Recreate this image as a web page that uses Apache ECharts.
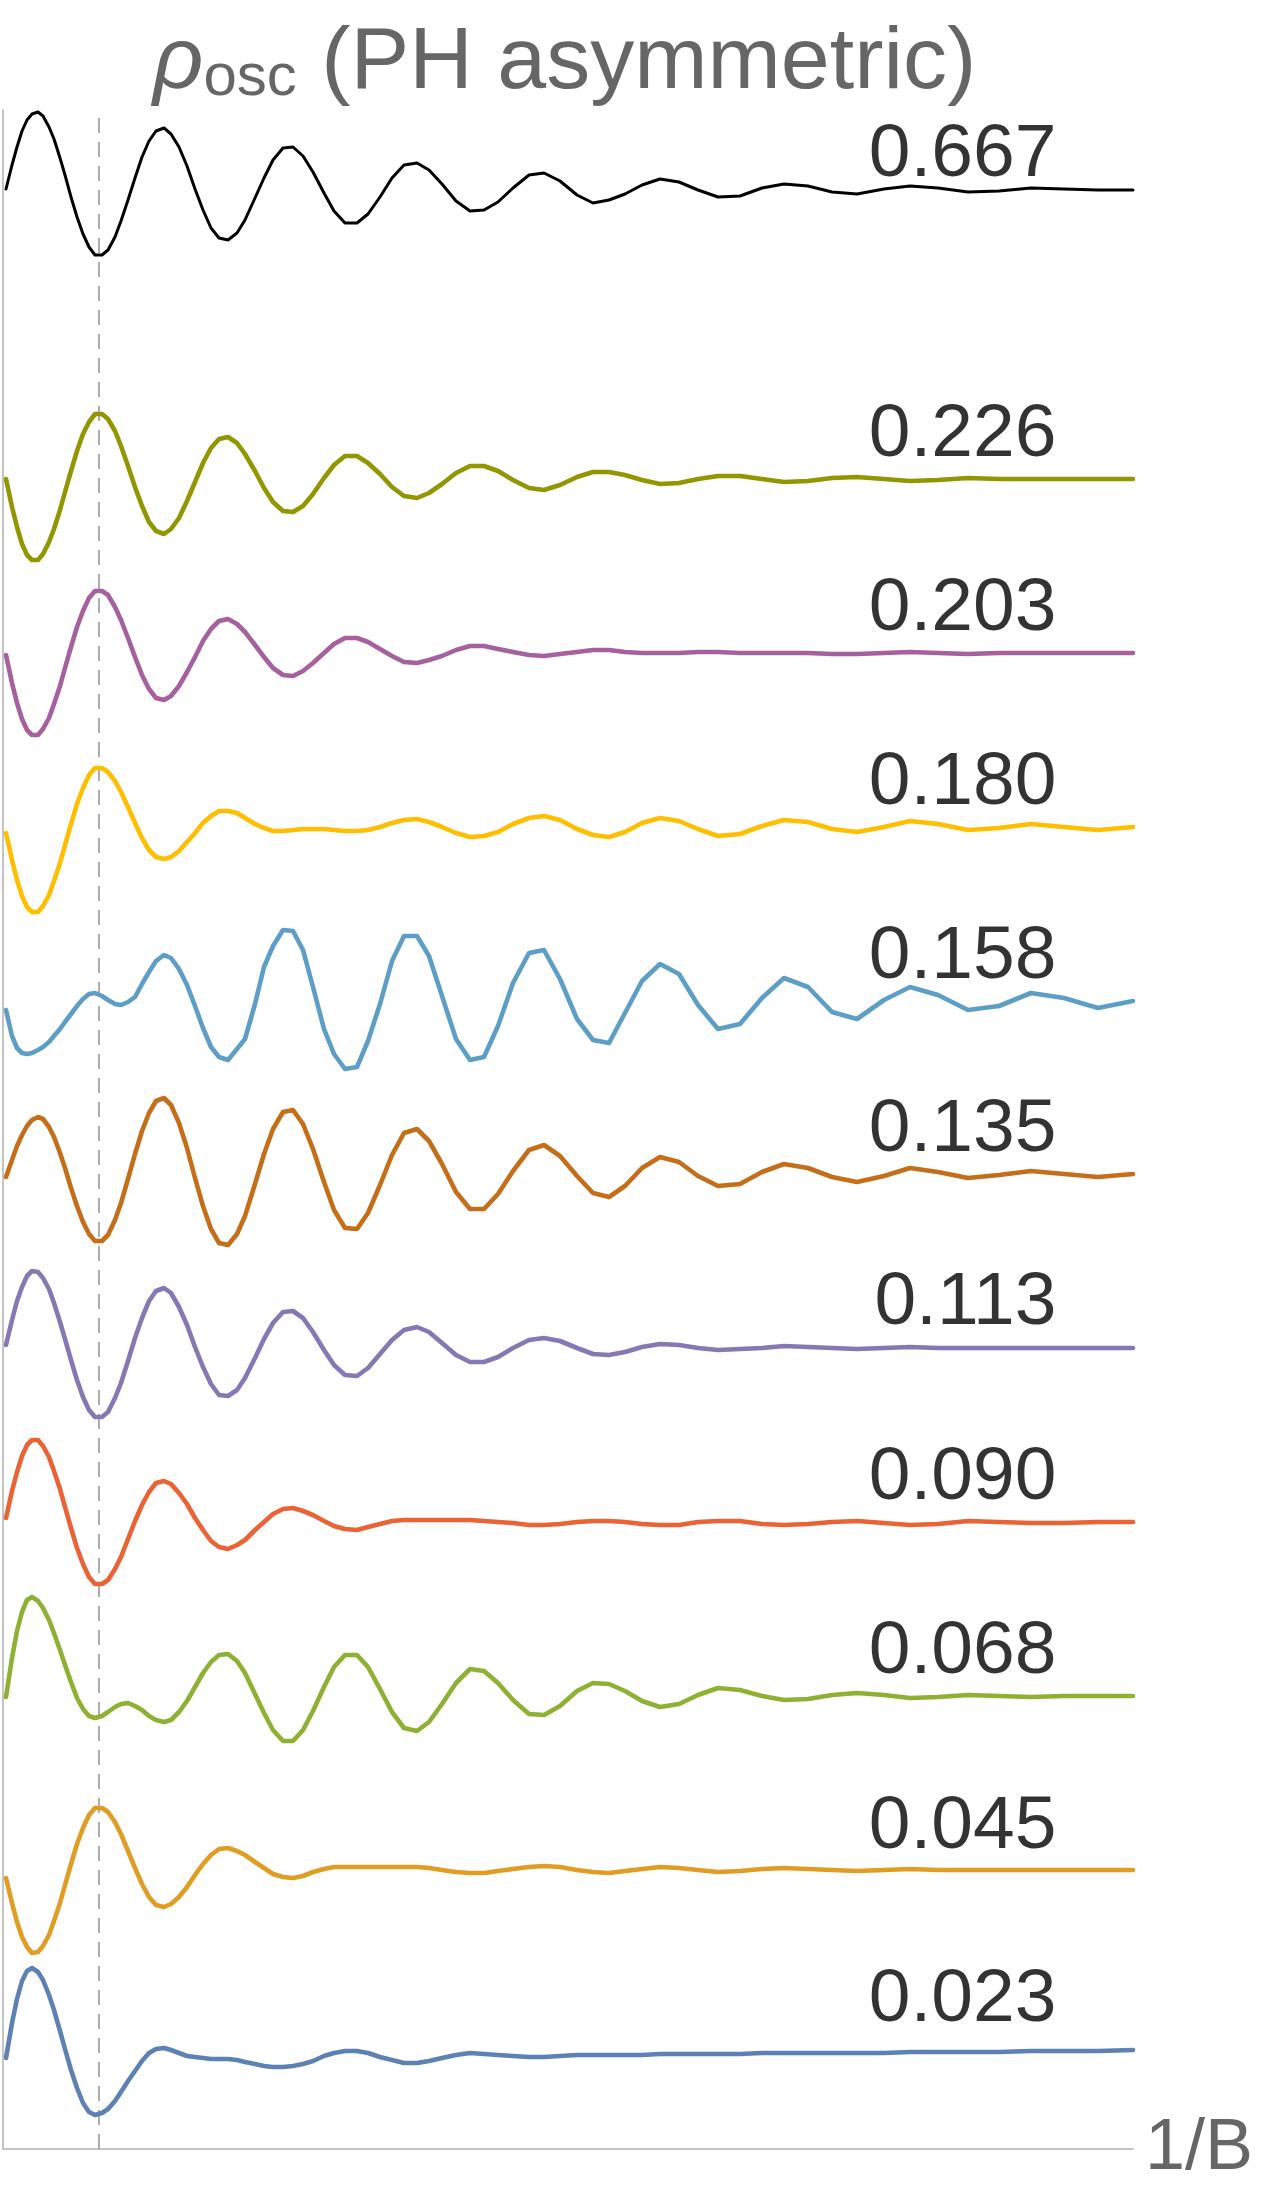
<!DOCTYPE html>
<html>
<head>
<meta charset="UTF-8">
<title>rho osc (PH asymmetric)</title>
<script src="https://cdn.jsdelivr.net/npm/echarts@6.0.0/dist/echarts.min.js"></script>
<style>
  html, body { margin: 0; padding: 0; background: #fff; }
  #chart { width: 1269px; height: 2198px; }
</style>
</head>
<body>
<div id="chart"></div>
<script>
// sample positions along 1/B (same for every curve)
var xs = [6, 12, 17, 22, 27, 32,
  38, 43, 49, 54, 60, 65, 71, 77, 83, 89, 95,
  102, 108, 115, 121, 128, 135, 142, 149, 156,
  164, 171, 179, 187, 195, 203, 211, 219,
  228, 237, 245, 255, 264, 273, 283,
  293, 303, 313, 324, 334, 345,
  357, 368, 380, 392, 404,
  417, 429, 442, 456, 470,
  484, 498, 513, 529,
  544, 560, 577, 593, 609, 625, 642, 660, 679, 698, 718, 740, 762, 784, 808, 832, 857, 884, 910, 938, 968, 999, 1031, 1064, 1098, 1133];

// curve labels, top to bottom
var labels = ['0.667', '0.226', '0.203', '0.180', '0.158', '0.135', '0.113', '0.090', '0.068', '0.045', '0.023'];

// vertical offset of each curve (stacked)
var offsets = [1959, 1670, 1496, 1322, 1148, 974, 801, 627, 453, 279, 99];

// rho_osc of each curve, relative to its offset
var rho0667 = [1, 25, 43, 59, 70, 76,
  78, 74, 63, 51, 32, 15, -7, -27, -44, -57, -65,
  -65, -60, -47, -31, -10, 12, 33, 49, 59,
  62, 56, 43, 24, 1, -20, -38, -48,
  -50, -43, -30, -8, 12, 30, 42,
  43, 34, 18, -3, -21, -33,
  -33, -24, -7, 12, 25,
  27, 20, 6, -11, -21,
  -20, -12, 2, 15,
  17, 9, -5, -13, -10, -4, 5, 11, 8, 0, -7, -6, 2, 6, 4, -2, -4, 1, 4, 2, -2, -1, 2, 1, 0, 0];

var rho0226 = [0, -28, -48, -65, -76, -81,
  -81, -75, -63, -50, -31, -13, 8, 28, 45, 57, 65,
  65, 60, 48, 33, 13, -8, -27, -43, -52,
  -55, -50, -39, -22, -3, 16, 31, 40,
  42, 36, 25, 8, -9, -23, -32,
  -33, -27, -15, 1, 14, 23,
  23, 16, 5, -8, -17,
  -19, -14, -5, 6, 13,
  13, 8, -1, -9,
  -11, -6, 2, 7, 7, 4, -1, -5, -4, 0, 3, 3, 0, -3, -2, 1, 2, 0, -2, -1, 1, 0, 0, 0, 0, 0];

var rho0203 = [-2, -30, -50, -66, -77, -82,
  -82, -76, -65, -51, -33, -15, 6, 26, 42, 55, 62,
  62, 58, 46, 33, 15, -4, -22, -36, -45,
  -47, -43, -33, -19, -4, 12, 24, 32,
  34, 29, 21, 8, -4, -15, -22,
  -23, -18, -10, 0, 9, 15,
  15, 11, 4, -3, -9,
  -10, -7, -3, 3, 7,
  7, 4, 1, -2,
  -3, -1, 1, 3, 3, 1, 0, 0, 0, 1, 1, 0, 0, 0, 0, -1, -1, 0, 1, 0, -1, 0, 0, 0, 0, 0];

var rho0180 = [-6, -33, -53, -69, -80, -85,
  -85, -79, -68, -54, -36, -18, 3, 23, 39, 52, 59,
  59, 55, 46, 35, 20, 4, -11, -23, -30,
  -32, -30, -24, -15, -6, 4, 11, 16,
  16, 14, 9, 3, -1, -4, -4,
  -3, -2, -2, -2, -3, -4,
  -4, -3, 0, 4, 7,
  8, 5, 0, -6, -10,
  -9, -5, 3, 9,
  11, 7, -2, -8, -10, -5, 4, 9, 6, -2, -9, -7, 1, 7, 5, -2, -5, 0, 6, 3, -3, -1, 3, 0, -3, 0];

var rho0158 = [-9, -35, -47, -52, -53, -52,
  -49, -46, -41, -35, -28, -21, -13, -5, 2, 7, 8,
  5, 1, -3, -4, -1, 4, 17, 29, 40,
  46, 43, 32, 16, -5, -27, -46, -56,
  -59, -48, -38, -3, 34, 55, 71,
  70, 51, 14, -28, -53, -68,
  -66, -40, -3, 40, 65,
  65, 45, 5, -38, -59,
  -56, -25, 18, 48,
  51, 22, -18, -39, -42, -12, 20, 37, 27, -4, -28, -23, 3, 23, 14, -11, -18, 1, 14, 6, -9, -5, 8, 3, -7, 0];

var rho0135 = [-2, 15, 29, 40, 49, 55,
  58, 56, 48, 38, 22, 7, -13, -31, -47, -59, -66,
  -66, -60, -45, -28, -4, 21, 44, 62, 74,
  77, 70, 52, 27, -3, -31, -54, -68,
  -70, -59, -41, -9, 21, 46, 63,
  65, 51, 26, -7, -35, -53,
  -54, -38, -10, 20, 42,
  46, 34, 11, -17, -34,
  -34, -19, 4, 25,
  30, 19, -1, -18, -22, -11, 7, 18, 13, -1, -11, -9, 3, 11, 7, -2, -7, -1, 7, 3, -3, 0, 4, 1, -2, 1];

var rho0113 = [3, 28, 47, 61, 72, 77,
  76, 70, 59, 45, 26, 9, -12, -32, -49, -62, -69,
  -69, -64, -50, -35, -13, 10, 30, 47, 57,
  60, 55, 41, 23, 1, -19, -36, -47,
  -48, -42, -30, -10, 9, 25, 36,
  37, 30, 16, -2, -17, -27,
  -28, -20, -6, 8, 18,
  21, 16, 5, -7, -14,
  -14, -9, 0, 8,
  10, 7, 0, -6, -7, -4, 1, 4, 3, 0, -2, -1, 0, 2, 1, 0, -1, 0, 1, 0, 0, 0, 0, 0, 0, 0];

var rho0090 = [4, 31, 50, 66, 77, 82,
  82, 76, 65, 51, 33, 15, -6, -26, -42, -55, -62,
  -62, -58, -47, -35, -17, 1, 17, 30, 39,
  41, 38, 29, 18, 4, -8, -19, -25,
  -27, -23, -18, -8, 0, 8, 13,
  14, 11, 7, 1, -4, -7,
  -8, -5, -2, 1, 2,
  2, 2, 2, 2, 2,
  1, 0, -1, -3,
  -3, -2, 0, 1, 1, 0, -2, -3, -3, 0, 1, 1, -2, -3, -2, 0, 1, -1, -3, -2, 1, 0, -1, -1, 0, 0];

var rho0068 = [-1, 38, 65, 84, 96, 99,
  95, 88, 76, 63, 46, 31, 14, -2, -13, -20, -22,
  -20, -16, -11, -8, -7, -10, -14, -20, -24,
  -26, -24, -16, -5, 9, 23, 34, 41,
  42, 35, 23, 2, -17, -34, -45,
  -45, -34, -15, 9, 29, 41,
  41, 29, 7, -16, -32,
  -35, -26, -8, 13, 27,
  25, 13, -4, -18,
  -19, -10, 5, 13, 12, 5, -5, -11, -8, 1, 8, 6, 0, -4, -3, 1, 3, 1, -2, -1, 1, 0, -1, 0, 0, 0];

var rho0045 = [-8, -33, -52, -67, -77, -83,
  -82, -76, -65, -51, -33, -15, 6, 26, 42, 55, 62,
  62, 58, 48, 36, 19, 2, -14, -27, -35,
  -37, -34, -27, -17, -5, 6, 15, 21,
  22, 19, 15, 8, 2, -4, -7,
  -8, -6, -2, 1, 3, 3,
  3, 3, 3, 3, 3,
  3, 2, 0, -2, -3,
  -3, -1, 1, 3,
  4, 3, 0, -2, -3, -1, 1, 3, 2, 0, -2, -1, 1, 2, 1, 0, -1, 0, 1, 0, 0, 0, 0, 0, 0, 0];

var rho0023 = [-8, 27, 51, 69, 79, 82,
  78, 70, 55, 40, 19, 1, -20, -38, -53, -62, -65,
  -63, -59, -51, -42, -31, -21, -11, -3, 1,
  2, 0, -3, -6, -7, -8, -9, -9,
  -9, -10, -12, -14, -16, -17, -17,
  -16, -14, -11, -6, -3, -1,
  -1, -3, -7, -10, -13,
  -13, -11, -8, -5, -3,
  -4, -5, -6, -7,
  -7, -6, -5, -5, -5, -5, -5, -4, -4, -4, -4, -4, -3, -3, -3, -3, -3, -3, -2, -2, -2, -2, -1, -1, -1, 0];

var curves = [rho0667, rho0226, rho0203, rho0180, rho0158, rho0135, rho0113, rho0090, rho0068, rho0045, rho0023];

// Mathematica-like palette, black for the top curve
var colors = ['#000000', '#929600', '#A5609D', '#FFBF00', '#5D9EC7', '#C56E1A',
              '#8778B3', '#EB6235', '#8FB032', '#E19C24', '#5E81B5'];

var FONT = "'Liberation Sans', Arial, Helvetica, sans-serif";
var LABEL_X = 1057;
var labelLift = [35, 44, 44, 44, 44, 45, 45, 44, 44, 43, 50];

var chart = echarts.init(document.getElementById('chart'), null, { renderer: 'canvas' });

var series = curves.map(function (vals, i) {
  return {
    name: labels[i],
    type: 'line',
    data: xs.map(function (x, j) { return [x, offsets[i] + vals[j]]; }),
    showSymbol: false,
    symbol: 'none',
    smooth: false,
    silent: true,
    lineStyle: { color: colors[i], width: i === 0 ? 3 : 4.6, join: 'round', cap: 'round' },
    z: 3
  };
});

// dashed reference line
series[0].markLine = {
  silent: true,
  symbol: 'none',
  label: { show: false },
  lineStyle: { color: '#999', width: 1.6, type: [15, 9] },
  data: [{ xAxis: 99 }],
  z: 1
};

// curve labels
series.push({
  type: 'scatter',
  silent: true,
  symbol: 'circle',
  symbolSize: 1,
  itemStyle: { color: 'rgba(0,0,0,0)' },
  data: labels.map(function (t, i) {
    return { name: t, value: [LABEL_X, offsets[i] + labelLift[i]] };
  }),
  label: {
    show: true,
    formatter: '{b}',
    position: 'left',
    distance: 0,
    fontFamily: FONT,
    fontSize: 75,
    color: '#000'
  },
  z: 5
});

var option = {
  animation: false,
  backgroundColor: '#fff',
  title: {
    text: '{rho|ρ}{sub|osc} (PH asymmetric)',
    left: 153,
    top: 20,
    padding: 0,
    textStyle: {
      fontFamily: FONT,
      fontSize: 88,
      fontWeight: 'normal',
      color: '#666',
      rich: {
        rho: { fontFamily: FONT, fontSize: 88, fontStyle: 'italic', color: '#666' },
        sub: { fontFamily: FONT, fontSize: 60, color: '#666', verticalAlign: 'bottom', lineHeight: 52 }
      }
    }
  },
  grid: {
    left: 3,
    right: 136,
    top: 110,
    bottom: 49,
    containLabel: false,
    outerBoundsMode: 'none'
  },
  xAxis: {
    type: 'value',
    min: 3,
    max: 1133,
    name: '1/B',
    nameLocation: 'end',
    nameGap: 12,
    nameTextStyle: { fontFamily: FONT, fontSize: 72, color: '#666' },
    axisLine: { show: true, onZero: false, lineStyle: { color: '#c4c4c4', width: 2 } },
    axisTick: { show: false },
    axisLabel: { show: false },
    splitLine: { show: false }
  },
  yAxis: {
    type: 'value',
    min: 0,
    max: 2039,
    axisLine: { show: true, lineStyle: { color: '#c4c4c4', width: 2 } },
    axisTick: { show: false },
    axisLabel: { show: false },
    splitLine: { show: false }
  },
  series: series
};

chart.setOption(option);
</script>
</body>
</html>
